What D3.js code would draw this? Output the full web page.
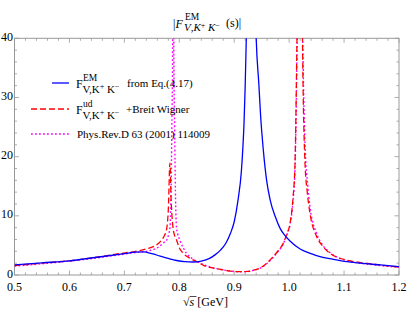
<!DOCTYPE html>
<html><head><meta charset="utf-8">
<script src="https://cdn.jsdelivr.net/npm/d3@7"></script>
<style>body{margin:0;background:#fff}svg{display:block}text{font-family:"Liberation Serif","DejaVu Serif",serif}</style>
</head><body>
<svg id="c" width="407" height="326"></svg>
<script>
const xTicks = [0.5,0.6,0.7,0.8,0.9,1.0,1.1,1.2];
const yTicks = [0,10,20,30,40];

const blueX = [0.50,0.55,0.60,0.65,0.70,0.72,0.735,0.75,0.765,0.78,0.795,0.81,0.825,0.84,0.855,0.865,0.875,0.885,0.893,0.90,0.907,0.913,0.9155,0.918,0.920,0.922,0.925,0.931,0.936,0.940,0.945,0.948,0.953,0.959,0.9654,0.975,0.984,0.993,1.002,1.02,1.04,1.056,1.08,1.105,1.13,1.166,1.2];
const blueY = [1.7,2.05,2.4,3.0,3.6,3.85,3.9,3.6,3.2,2.8,2.45,2.25,2.2,2.35,2.8,3.4,4.2,5.4,7.0,9.0,12.7,17.5,21.1,26,32,40,55,90,55,40,32,27,21.1,16,12.7,9.8,7.8,6.6,5.7,4.4,3.6,3.1,2.65,2.25,2.0,1.7,1.4];

const redX = [0.50,0.55,0.60,0.65,0.69,0.72,0.74,0.755,0.765,0.772,0.777,0.780,0.783,0.785,0.788,0.792,0.795,0.80,0.807,0.82,0.832,0.845,0.86,0.875,0.89,0.91,0.925,0.935,0.946,0.958,0.971,0.98,0.989,0.996,1.0016,1.007,1.0107,1.0143,1.017,1.0198,1.0225,1.0243,1.0289,1.033,1.038,1.05,1.06,1.074,1.09,1.105,1.13,1.166,1.2];
const redY = [1.6,2.0,2.4,3.0,3.6,4.0,4.4,4.9,5.6,6.5,7.8,11,18.9,13,8.5,6.5,5.9,4.6,3.7,2.8,2.25,1.6,1.2,0.95,0.7,0.56,0.6,0.8,1.13,1.9,3.1,4.1,5.3,7.0,8.7,13,18.9,40,60,90,60,40,18.9,14,10.4,6.5,5.0,3.7,2.9,2.5,2.1,1.7,1.3];

const magX = [0.50,0.55,0.60,0.65,0.69,0.72,0.745,0.76,0.772,0.777,0.781,0.783,0.785,0.7865,0.788,0.789,0.790,0.7915,0.793,0.795,0.797,0.801,0.813,0.825,0.838,0.86,0.875,0.89,0.91,0.925,0.935,0.946,0.958,0.971,0.98,0.989,0.996,1.0016,1.007,1.0107,1.0143,1.017,1.0198,1.0225,1.0245,1.029,1.034,1.038,1.05,1.06,1.074,1.09,1.105,1.13,1.166,1.2];
const magY = [1.5,1.9,2.35,2.9,3.4,3.8,4.1,4.6,5.5,5.9,7.0,8.0,14,25,40,100,40,25,14,8.0,7.0,5.9,3.7,2.7,2.0,1.25,0.95,0.7,0.55,0.6,0.8,1.1,1.8,3.0,4.0,5.2,6.8,8.5,12.5,18,38,60,90,60,42,22,15,11.5,7.0,5.2,3.8,2.9,2.4,2.0,1.6,1.3];

const svg = d3.select("#c");
const L = 14.5, R = 399, T = 38.3, B = 275;
const x = d3.scaleLinear().domain([0.5,1.2]).range([L,R]);
const y = d3.scaleLinear().domain([0,40]).range([B,T]);
const frame = "#999";

svg.append("defs").append("clipPath").attr("id","clip")
  .append("rect").attr("x",L).attr("y",T).attr("width",R-L).attr("height",B-T);

svg.append("rect").attr("x",L).attr("y",T).attr("width",R-L).attr("height",B-T)
  .attr("fill","none").attr("stroke",frame).attr("stroke-width",1);

const minorX = d3.range(0.5,1.2001,0.02);
const minorY = d3.range(0,40.001,2);
const tk = svg.append("g").attr("stroke",frame).attr("stroke-width",0.8);
minorX.forEach(v=>{
  const major = xTicks.some(t=>Math.abs(t-v)<1e-6);
  const len = major?4.5:2.5;
  tk.append("line").attr("x1",x(v)).attr("x2",x(v)).attr("y1",B).attr("y2",B-len);
  tk.append("line").attr("x1",x(v)).attr("x2",x(v)).attr("y1",T).attr("y2",T+len);
});
minorY.forEach(v=>{
  const major = yTicks.some(t=>Math.abs(t-v)<1e-6);
  const len = major?4.5:2.5;
  tk.append("line").attr("y1",y(v)).attr("y2",y(v)).attr("x1",L).attr("x2",L+len);
  tk.append("line").attr("y1",y(v)).attr("y2",y(v)).attr("x1",R).attr("x2",R-len);
});

svg.append("g").selectAll("text").data(xTicks).join("text")
  .attr("x",d=>x(d)).attr("y",B+15.5).attr("text-anchor","middle")
  .attr("font-size",12).text(d=>d.toFixed(1));
svg.append("g").selectAll("text").data(yTicks).join("text")
  .attr("x",L-1.5).attr("y",d=>y(d)+2.5).attr("text-anchor","end")
  .attr("font-size",12).text(d=>d);

const line = d3.line().x(d=>x(d[0])).y(d=>y(d[1])).curve(d3.curveMonotoneX);
const g = svg.append("g").attr("clip-path","url(#clip)");
g.append("path").attr("d",line(d3.zip(magX,magY))).attr("fill","none")
  .attr("stroke","#ff00ff").attr("stroke-width",1.4).attr("stroke-dasharray","1.8,2.2");
g.append("path").attr("d",line(d3.zip(redX,redY))).attr("fill","none")
  .attr("stroke","#ff0000").attr("stroke-width",1.3).attr("stroke-dasharray","6,3");
g.append("path").attr("d",line(d3.zip(blueX,blueY))).attr("fill","none")
  .attr("stroke","#0000ff").attr("stroke-width",1.3);

function subKK(el, fs, italic){
  const it = italic ? "italic" : "normal";
  el.append("tspan").attr("font-style",it).text("V");
  el.append("tspan").text(",");
  el.append("tspan").attr("font-style",it).text("K");
  el.append("tspan").attr("font-size",fs*0.75).attr("dy",-3.5).text("+");
  el.append("tspan").attr("font-style",it).attr("dy",3.5).attr("dx",2.5).text("K");
  el.append("tspan").attr("font-size",fs*0.75).attr("dy",-3.5).text("−");
}

// title
const t = svg.append("text").attr("x",173).attr("y",28).attr("font-size",12);
t.append("tspan").text("|");
t.append("tspan").attr("font-style","italic").text("F");
svg.append("text").attr("x",185).attr("y",20).attr("font-size",9.5).text("EM");
subKK(svg.append("text").attr("x",184).attr("y",31).attr("font-size",11), 11, true);
svg.append("text").attr("x",226).attr("y",27).attr("font-size",12).text("(s)|");

// legend
const legY = [83,109,134];
svg.append("line").attr("x1",52).attr("x2",69).attr("y1",legY[0]).attr("y2",legY[0]).attr("stroke","#0000ff").attr("stroke-width",1.3);
svg.append("line").attr("x1",31).attr("x2",69).attr("y1",legY[1]).attr("y2",legY[1]).attr("stroke","#ff0000").attr("stroke-width",1.3).attr("stroke-dasharray","6,3");
svg.append("line").attr("x1",31).attr("x2",69).attr("y1",legY[2]).attr("y2",legY[2]).attr("stroke","#ff00ff").attr("stroke-width",1.4).attr("stroke-dasharray","1.8,2.2");

function legEntry(yy, sup, rest, restX){
  svg.append("text").attr("x",76).attr("y",yy+5).attr("font-size",12).text("F");
  svg.append("text").attr("x",83).attr("y",yy-2).attr("font-size",9.5).text(sup);
  subKK(svg.append("text").attr("x",82.5).attr("y",yy+9.5).attr("font-size",11), 11, false);
  svg.append("text").attr("x",restX).attr("y",yy+4).attr("font-size",11).text(rest);
}
legEntry(legY[0],"EM","from Eq.(4.17)",127);
legEntry(legY[1],"ud","+Breit Wigner",126);
svg.append("text").attr("x",77).attr("y",legY[2]+4).attr("font-size",11).text("Phys.Rev.D 63 (2001) 114009");

// x label
const xl = svg.append("text").attr("x",183).attr("y",306).attr("font-size",12);
xl.append("tspan").text("√");
xl.append("tspan").attr("font-style","italic").text("s");
xl.append("tspan").text("  [GeV]");
svg.append("line").attr("x1",190).attr("x2",196.5).attr("y1",296.5).attr("y2",296.5).attr("stroke","#000").attr("stroke-width",0.7);
</script>
</body></html>
